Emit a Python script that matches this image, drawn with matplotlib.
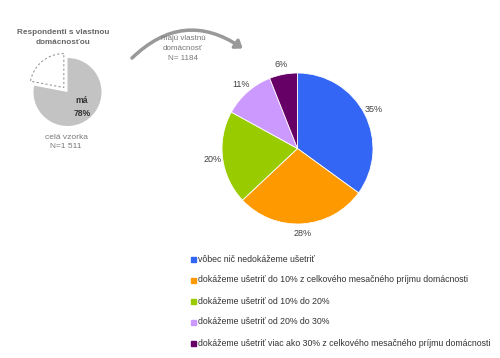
import matplotlib
matplotlib.use("Agg")
import matplotlib.pyplot as plt
from matplotlib.patches import FancyArrowPatch

plt.rcParams['font.family'] = ['Liberation Sans', 'DejaVu Sans']

categories = [
    "vôbec nič nedokážeme ušetriť",
    "dokážeme ušetriť do 10% z celkového mesačného príjmu domácnosti",
    "dokážeme ušetriť od 10% do 20%",
    "dokážeme ušetriť od 20% do 30%",
    "dokážeme ušetriť viac ako 30% z celkového mesačného príjmu domácnosti",
]
values = [35, 28, 20, 11, 6]
colors = ["#3366F5", "#FF9900", "#99CC00", "#CC99FF", "#660066"]

small_values = [78, 22]
small_labels = ["má\n78%", ""]

W, H = 500, 358
fig = plt.figure(figsize=(W / 100, H / 100), dpi=100)
fig.patch.set_facecolor("white")

def px_axes(cx, cy, r):
    return fig.add_axes([(cx - r) / W, (H - cy - r) / H, 2 * r / W, 2 * r / H])

# main pie
ax = px_axes(297.5, 148.5, 75.5)
wedges, texts, autotexts = ax.pie(
    values, colors=colors, startangle=90, counterclock=False,
    autopct="%d%%", pctdistance=1.13, radius=1,
    wedgeprops=dict(linewidth=0.6, edgecolor="white"),
    textprops=dict(fontsize=6.5, color="#404040"))
ax.set_xlim(-1, 1)
ax.set_ylim(-1, 1)
ax.set_aspect("equal")
ax.axis("off")

# small pie
ax2 = px_axes(67.5, 92, 34)
w2, _ = ax2.pie(small_values, colors=["#C3C3C3", "white"], startangle=90,
                counterclock=False, explode=[0, 0.17], radius=1)
w2[1].set_edgecolor("#999999")
w2[1].set_linestyle((0, (2, 2)))
w2[1].set_linewidth(0.8)
ax2.set_xlim(-1, 1)
ax2.set_ylim(-1, 1)
ax2.set_aspect("equal")
ax2.axis("off")
ax2.text(0.43, -0.44, small_labels[0], ha="center", va="center", fontsize=6.2,
         fontweight="bold", color="#333333", linespacing=1.5)

def T(x, y, s, **kw):
    fig.text(x / W, 1 - y / H, s, **kw)

T(63, 37.5, "Respondenti s vlastnou\ndomácnosťou", ha="center", va="center",
  fontsize=5.9, fontweight="bold", color="#666666", linespacing=1.6)
T(66, 142, "celá vzorka\nN=1 511", ha="center", va="center",
  fontsize=6.0, color="#777777", linespacing=1.5)

T(183, 49, "majú vlastnú\ndomácnosť\nN= 1184", ha="center", va="center",
  fontsize=5.8, color="#777777", linespacing=1.6)

arrow = FancyArrowPatch((130 / W, 1 - 60 / H), (245 / W, 1 - 50 / H),
                        transform=fig.transFigure,
                        connectionstyle="arc3,rad=-0.42",
                        arrowstyle="-|>,head_length=4,head_width=3",
                        color="#999999", linewidth=2.5)
fig.patches.append(arrow)

# legend
for i, (c, lab) in enumerate(zip(colors, categories)):
    y = 259 + i * 21
    fig.patches.append(plt.Rectangle((190.5 / W, 1 - (y + 2.5) / H), 5 / W, 5 / H,
                                     transform=fig.transFigure, color=c))
    T(198.5, y, lab, ha="left", va="center", fontsize=6.3, color="#333333")

fig.savefig("out.png", dpi=100, facecolor="white")
